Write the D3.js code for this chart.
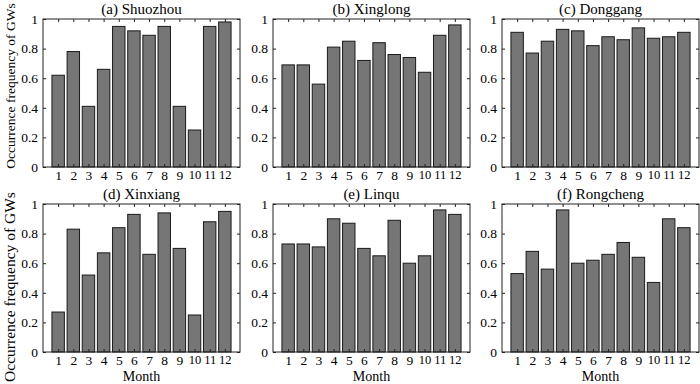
<!DOCTYPE html>
<html>
<head>
<meta charset="utf-8">
<script src="https://cdn.jsdelivr.net/npm/d3@7"></script>
<style>
  body { margin: 0; background: #fff; }
  svg { display: block; }
  text { font-family: "Liberation Serif", "Times New Roman", serif; fill: #000; }
</style>
</head>
<body>
<div id="chart-area"></div>
<script>
// monthly occurrence frequency of GWs at six stations
let months = [1, 2, 3, 4, 5, 6, 7, 8, 9, 10, 11, 12];
let yTicks = [0, 0.2, 0.4, 0.6, 0.8, 1];

let shuozhou  = [0.62, 0.78, 0.41, 0.66, 0.95, 0.92, 0.89, 0.95, 0.41, 0.25, 0.95, 0.98];
let xinglong  = [0.69, 0.69, 0.56, 0.81, 0.85, 0.72, 0.84, 0.76, 0.74, 0.64, 0.89, 0.96];
let donggang  = [0.91, 0.77, 0.85, 0.93, 0.92, 0.82, 0.88, 0.86, 0.94, 0.87, 0.88, 0.91];
let xinxiang  = [0.27, 0.83, 0.52, 0.67, 0.84, 0.93, 0.66, 0.94, 0.70, 0.25, 0.88, 0.95];
let linqu     = [0.73, 0.73, 0.71, 0.90, 0.87, 0.70, 0.65, 0.89, 0.60, 0.65, 0.96, 0.93];
let rongcheng = [0.53, 0.68, 0.56, 0.96, 0.60, 0.62, 0.66, 0.74, 0.64, 0.47, 0.90, 0.84];

let titles = ["(a) Shuozhou", "(b) Xinglong", "(c) Donggang",
              "(d) Xinxiang", "(e) Linqu", "(f) Rongcheng"];
let series = [shuozhou, xinglong, donggang, xinxiang, linqu, rongcheng];

// layout
let W = 700, H = 384;
let colX = [43, 273, 502];
let rowY = [19, 204];
let pw = 197, ph = 148;
// the two row labels are not quite the same size / centre in the original
let yLabelCenter = [86, 287];
let yLabelSize = [13.5, 15.5];

let svg = d3.select("#chart-area").append("svg")
    .attr("width", W)
    .attr("height", H);

let x = d3.scaleLinear().domain([0, 13]).range([0, pw]);
let y = d3.scaleLinear().domain([0, 1]).range([ph, 0]);
let barW = x(0.82) - x(0);

let fmt = d => (d === 0 || d === 1) ? String(d) : d.toFixed(1);

series.forEach((vals, i) => {
    let col = i % 3, row = Math.floor(i / 3);
    let g = svg.append("g")
        .attr("transform", "translate(" + colX[col] + "," + rowY[row] + ")");

    g.selectAll("rect.bar")
        .data(vals)
        .enter().append("rect")
        .attr("class", "bar")
        .attr("x", (d, j) => x(months[j]) - barW / 2)
        .attr("y", d => y(d))
        .attr("width", barW)
        .attr("height", d => y(0) - y(d))
        .attr("fill", "#767676")
        .attr("stroke", "#1a1a1a")
        .attr("stroke-width", 1);

    // axes, ticks pointing inward like matlab
    let xb = g.append("g").attr("transform", "translate(0," + ph + ")")
        .call(d3.axisBottom(x).tickValues(months).tickSizeInner(-3).tickSizeOuter(0).tickPadding(3));
    let yl = g.append("g")
        .call(d3.axisLeft(y).tickValues(yTicks).tickFormat(fmt).tickSizeInner(-3).tickSizeOuter(0).tickPadding(5));
    let xt = g.append("g")
        .call(d3.axisTop(x).tickValues(months).tickSizeInner(-3).tickSizeOuter(0).tickFormat(""));
    let yr = g.append("g").attr("transform", "translate(" + pw + ",0)")
        .call(d3.axisRight(y).tickValues(yTicks).tickSizeInner(-3).tickSizeOuter(0).tickFormat(""));

    [xb, yl, xt, yr].forEach(a => {
        a.select(".domain").remove();
        a.selectAll("line").attr("stroke", "#222");
        a.selectAll("text")
            .style("font-family", "'Liberation Serif', serif")
            .style("font-size", "13.5px")
            .attr("fill", "#000");
    });
    // two-digit months are tight, shrink them slightly
    xb.selectAll("text").filter(d => d >= 10).style("font-size", "12.5px");

    g.append("rect")
        .attr("width", pw)
        .attr("height", ph)
        .attr("fill", "none")
        .attr("stroke", "#222")
        .attr("stroke-width", 1);

    g.append("text")
        .attr("x", pw / 2)
        .attr("y", -5)
        .attr("text-anchor", "middle")
        .style("font-size", "15px")
        .text(titles[i]);

    if (row === 1) {
        g.append("text")
            .attr("x", pw / 2)
            .attr("y", ph + 28.5)
            .attr("text-anchor", "middle")
            .style("font-size", "14px")
            .text("Month");
    }
    if (col === 0) {
        g.append("text")
            .attr("transform", "translate(-28," + (yLabelCenter[row] - rowY[row]) + ") rotate(-90)")
            .attr("text-anchor", "middle")
            .style("font-size", yLabelSize[row] + "px")
            .text("Occurrence frequency of GWs");
    }
});
</script>
</body>
</html>
